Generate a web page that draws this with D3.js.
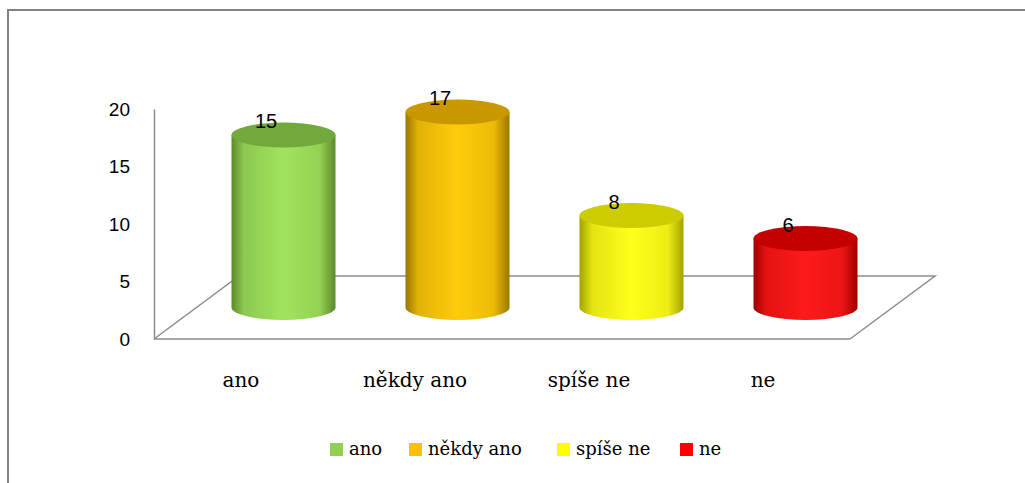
<!DOCTYPE html>
<html>
<head>
<meta charset="utf-8">
<script src="https://cdn.jsdelivr.net/npm/d3@7"></script>
<style>
  body { margin: 0; background: #fff; }
  svg text { font-family: "DejaVu Serif", serif; fill: #000; }
</style>
</head>
<body>
<div id="sandbox"></div>
<script>
// Data
const categories = ["ano", "někdy ano", "spíše ne", "ne"];
const values = [15, 17, 8, 6];
const yTicks = [0, 5, 10, 15, 20];
const colors = {
  ano:         { light: "#a2e35e", dark: "#5b8a2b", top: "#72a83c", legend: "#92d050" },
  "někdy ano": { light: "#ffcc0a", dark: "#9c7500", top: "#c99700", legend: "#ffc000" },
  "spíše ne":  { light: "#ffff1a", dark: "#a3a300", top: "#cccc00", legend: "#ffff00" },
  ne:          { light: "#ff1a1a", dark: "#a00000", top: "#c40000", legend: "#ff0000" }
};

const width = 1025, height = 483;

const svg = d3.select("#sandbox")
  .append("svg")
  .attr("width", width)
  .attr("height", height);

// outer frame
svg.append("path")
  .attr("d", `M8,${height + 2} L8,10 L${width + 2},10`)
  .attr("fill", "none")
  .attr("stroke", "#828282")
  .attr("stroke-width", 2);

// Scales (front plane)
const x = d3.scaleBand().domain(categories).range([154, 850]);
const y = d3.scaleLinear().domain([0, 20]).range([339, 109]);

// depth of the floor
const depthX = 85, depthY = -63;

// floor
svg.append("path")
  .attr("d", `M154,${y(0)} L${154 + depthX},${y(0) + depthY} L${850 + depthX},${y(0) + depthY} L850,${y(0)}`)
  .attr("fill", "none")
  .attr("stroke", "#8c8c8c")
  .attr("stroke-width", 1.5);

// y axis
const yAxis = svg.append("g")
  .attr("transform", "translate(154,0)")
  .call(d3.axisLeft(y).tickValues(yTicks).tickSize(0).tickPadding(24));
yAxis.select(".domain").attr("stroke", "#8c8c8c").attr("stroke-width", 1.5);
yAxis.selectAll("text")
  .style("font-family", "'Liberation Sans', sans-serif")
  .attr("font-size", 19)
  .attr("fill", "#000");

// front bottom edge
svg.append("line")
  .attr("x1", 154).attr("x2", 850)
  .attr("y1", y(0)).attr("y2", y(0))
  .attr("stroke", "#8c8c8c")
  .attr("stroke-width", 1.5);

// gradients
const defs = svg.append("defs");
categories.forEach((c, i) => {
  const g = defs.append("linearGradient")
    .attr("id", "grad" + i)
    .attr("x1", "0%").attr("x2", "100%");
  g.append("stop").attr("offset", "0%").attr("stop-color", colors[c].dark);
  g.append("stop").attr("offset", "12%").attr("stop-color", d3.interpolateRgb(colors[c].dark, colors[c].light)(0.7));
  g.append("stop").attr("offset", "50%").attr("stop-color", colors[c].light);
  g.append("stop").attr("offset", "85%").attr("stop-color", d3.interpolateRgb(colors[c].light, colors[c].dark)(0.2));
  g.append("stop").attr("offset", "100%").attr("stop-color", colors[c].dark);
});

// cylinders
const rx = 52, ry = 12.5;
const offX = depthX / 2, offY = depthY / 2;

const bars = svg.append("g").selectAll("g")
  .data(categories.map((c, i) => ({ c, v: values[i], i })))
  .join("g");

bars.append("path")
  .attr("d", d => {
    const cx = x(d.c) + x.bandwidth() / 2 + offX;
    const top = y(d.v) + offY;
    const bot = y(0) + offY;
    return `M${cx - rx},${top} L${cx - rx},${bot} A${rx},${ry} 0 0 0 ${cx + rx},${bot} L${cx + rx},${top} Z`;
  })
  .attr("fill", d => `url(#grad${d.i})`);

bars.append("ellipse")
  .attr("cx", d => x(d.c) + x.bandwidth() / 2 + offX)
  .attr("cy", d => y(d.v) + offY)
  .attr("rx", rx)
  .attr("ry", ry)
  .attr("fill", d => colors[d.c].top);

// value labels
bars.append("text")
  .attr("x", d => x(d.c) + x.bandwidth() / 2 + 25)
  .attr("y", d => y(d.v) + offY - 7)
  .attr("text-anchor", "middle")
  .style("font-family", "'Liberation Sans', sans-serif")
  .attr("font-size", 20)
  .text(d => d.v);

// category labels
svg.append("g").selectAll("text")
  .data(categories)
  .join("text")
  .attr("x", d => x(d) + x.bandwidth() / 2)
  .attr("y", 387)
  .attr("text-anchor", "middle")
  .attr("font-size", 20)
  .text(d => d);

// legend
const legendX = [330, 409, 557, 680];
const legend = svg.append("g").selectAll("g")
  .data(categories)
  .join("g")
  .attr("transform", (d, i) => `translate(${legendX[i]},443)`);
legend.append("rect")
  .attr("width", 13).attr("height", 13)
  .attr("fill", d => colors[d].legend);
legend.append("text")
  .attr("x", 19)
  .attr("y", 12)
  .attr("font-size", 18)
  .text(d => d);
</script>
</body>
</html>
